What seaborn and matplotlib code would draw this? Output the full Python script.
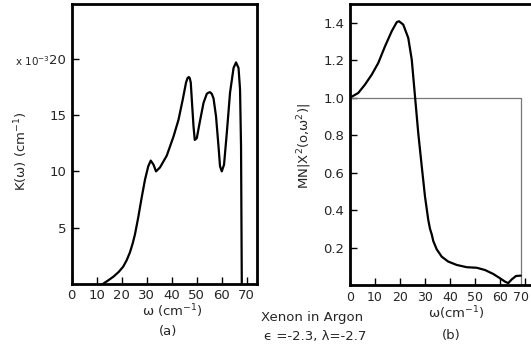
import seaborn as sns
import matplotlib.pyplot as plt
import matplotlib.transforms as mtransforms
import numpy as np

# (a) absorption coefficient K(omega), units of 1e-3 cm^-1
omega_a = [12.6, 14.5, 16.7, 18.8, 20.6, 22.0, 23.3, 24.4, 25.3, 26.6, 28.0, 29.3, 30.6, 31.6, 32.7, 33.7,
           35.3, 38.0, 40.7, 42.7, 44.4, 45.7, 46.3, 46.8, 47.2, 47.6, 48.1, 48.7,
           49.2, 50.0, 51.3, 52.7, 54.0, 54.6, 55.3, 56.0, 56.7, 57.7, 58.7, 59.3,
           60.0, 60.9, 62.0, 63.3, 64.7, 65.7, 66.7, 67.3, 67.7, 68.0]
k_a = [0.0, 0.28, 0.63, 1.05, 1.52, 2.1, 2.8, 3.6, 4.4, 5.9, 7.7, 9.26, 10.45, 10.96, 10.6, 10.0,
       10.35, 11.4, 13.1, 14.6, 16.4, 17.9, 18.3, 18.4, 18.3, 17.9, 16.1, 14.0,
       12.8, 12.95, 14.5, 16.1, 16.9, 17.0, 17.05, 16.9, 16.5, 14.9, 12.2, 10.45,
       10.0, 10.6, 13.4, 17.0, 19.2, 19.7, 19.2, 17.3, 12.2, 0.0]

# (b) MN|X^2(0,w^2)|
omega_b = [0.0, 3.3, 6.0, 8.7, 11.3, 14.0, 16.7, 18.7, 19.6, 21.3, 23.3, 24.7,
           26.0, 27.3, 28.7, 30.0, 31.3, 32.0, 32.7, 33.3, 34.7, 36.7, 39.3, 42.7,
           46.7, 50.7, 54.0, 57.3, 60.0, 62.0, 63.3, 64.7, 66.4, 68.3]
chi_b = [1.0, 1.025, 1.07, 1.123, 1.185, 1.274, 1.355, 1.403, 1.408, 1.39, 1.319, 1.203,
         1.007, 0.811, 0.633, 0.472, 0.348, 0.3, 0.27, 0.235, 0.19, 0.151, 0.125, 0.107,
         0.095, 0.092, 0.08, 0.059, 0.036, 0.018, 0.01, 0.03, 0.048, 0.05]

# reference level 1.0 box in (b)
ref_x = [0.0, 68.3, 68.3]
ref_y = [1.0, 1.0, 0.0]

xticks = [0, 10, 20, 30, 40, 50, 60, 70]
yticks_a = [5, 10, 15, 20]
yticks_b = [0.2, 0.4, 0.6, 0.8, 1.0, 1.2, 1.4]

sns.set_style('ticks')
plt.rcParams['font.family'] = ['DejaVu Sans']

W, H = 531, 347
fig = plt.figure(figsize=(W / 100, H / 100), dpi=100)

def box(l, r, t, b):
    return [l / W, 1 - b / H, (r - l) / W, (b - t) / H]

ax_a = fig.add_axes(box(71.7, 257.3, 4, 283.7))
ax_b = fig.add_axes(box(350, 535, 4, 285))

sns.lineplot(x=omega_a, y=k_a, ax=ax_a, color='black', lw=1.6, sort=False, estimator=None)
sns.lineplot(x=ref_x, y=ref_y, ax=ax_b, color='#777777', lw=0.9, sort=False, estimator=None)
sns.lineplot(x=omega_b, y=chi_b, ax=ax_b, color='black', lw=1.6, sort=False, estimator=None)

ax_a.set_xlim(0, 74.2)
ax_a.set_ylim(0, 24.9)
ax_b.set_xlim(0, 74)
ax_b.set_ylim(0, 1.5)

for ax in [ax_a, ax_b]:
    ax.set_xticks(xticks)
    ax.set_xticklabels([str(t) for t in xticks])
    ax.tick_params(direction='in', length=5, width=1, labelsize=9.5, pad=4, color='black')
    for s in ax.spines.values():
        s.set_linewidth(2)
        s.set_color('black')
    ax.set_xlabel('')
    ax.set_ylabel('')

ax_a.set_yticks(yticks_a)
ax_a.set_yticklabels([str(t) for t in yticks_a])
ax_b.set_yticks(yticks_b)
ax_b.set_yticklabels(['%.1f' % t for t in yticks_b])
ax_b.set_xticklabels([str(t) for t in xticks], fontsize=9)

# last tick label of (b) sits at the image edge, pull it in a little
last = ax_b.get_xticklabels()[-1]
last.set_transform(last.get_transform() + mtransforms.ScaledTranslation(-4 / 100, 0, fig.dpi_scale_trans))

def ftext(x, y, s, **kw):
    fig.text(x / W, 1 - y / H, s, ha='center', va='center', **kw)

ftext(21.7, 151, 'K(ω) (cm$^{-1}$)', rotation=90, fontsize=9.5)
fig.text(50 / W, 1 - 61 / H, 'x 10$^{-3}$', ha='right', va='center', fontsize=7.5)
ftext(172.5, 311, 'ω (cm$^{-1}$)', fontsize=9.5)
ftext(168, 332, '(a)', fontsize=9.5)

ftext(305, 146, 'MN|X$^2$(o,ω$^2$)|', rotation=90, fontsize=9.5)
ftext(456.7, 313, 'ω(cm$^{-1}$)', fontsize=9.5)
ftext(451.7, 335, '(b)', fontsize=9.5)

ftext(311.7, 318, 'Xenon in Argon', fontsize=9.5)
ftext(315, 336.5, 'ϵ =-2.3, λ=-2.7', fontsize=9.5)

fig.savefig('out.png', dpi=100)
